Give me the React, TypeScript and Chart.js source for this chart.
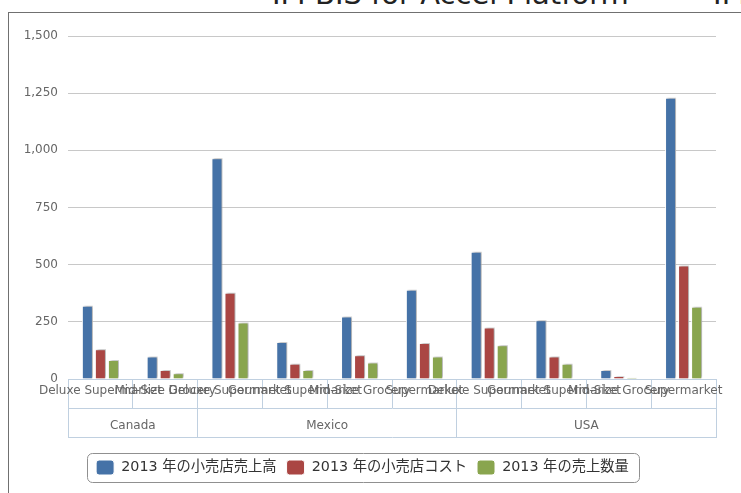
import React, { useEffect, useRef } from 'react';
import { Chart, registerables } from 'chart.js';

Chart.register(...registerables);

const TITLE = 'IM-BIS for Accel Platform   —   IM';
const COUNTRIES = ['Canada', 'Mexico', 'USA'];
const COUNTRY_SPANS = [2, 4, 4];
const STORE_TYPES = [
  'Deluxe Supermarket', 'Mid-Size Grocery',
  'Deluxe Supermarket', 'Gourmet Supermarket', 'Mid-Size Grocery', 'Supermarket',
  'Deluxe Supermarket', 'Gourmet Supermarket', 'Mid-Size Grocery', 'Supermarket',
];
const SERIES_NAMES = ['2013 年の小売店売上高', '2013 年の小売店コスト', '2013 年の売上数量'];
const SALES = [320, 98, 965, 162, 273, 390, 557, 257, 39, 1230];
const COST = [130, 39, 377, 67, 104, 157, 225, 98, 13, 496];
const UNITS = [83, 25, 247, 39, 72, 98, 148, 67, 6, 316];
const Y_MAX = 1500;
const Y_STEP = 250;

const COLORS = ['#4572A7', '#AA4643', '#89A54E'];
const FONT = "'DejaVu Sans', 'Noto Sans CJK JP', sans-serif";
const AXIS_BLUE = '#C0D0E0';

// group boundaries & centers derived from spans
const BOUNDS: number[] = [0];
COUNTRY_SPANS.forEach((s) => BOUNDS.push(BOUNDS[BOUNDS.length - 1] + s));
const CENTERS = COUNTRY_SPANS.map((s, i) => BOUNDS[i] + s / 2);

const shadowPlugin = {
  id: 'barShadow',
  beforeDatasetsDraw(chart: any) {
    const c = chart.ctx;
    c.save();
    c.shadowColor = 'rgba(0,0,0,0.32)';
    c.shadowBlur = 2.5;
    c.shadowOffsetX = 2;
    c.shadowOffsetY = -1;
  },
  afterDatasetsDraw(chart: any) {
    chart.ctx.restore();
  },
};

const legendBoxPlugin = {
  id: 'legendBox',
  afterDraw(chart: any) {
    const lg = chart.legend;
    if (!lg || !lg.legendHitBoxes || !lg.legendHitBoxes.length) return;
    const hb = lg.legendHitBoxes;
    const l = Math.min(...hb.map((h: any) => h.left)) - 9;
    const r = Math.max(...hb.map((h: any) => h.left + h.width)) + 10;
    const t = Math.min(...hb.map((h: any) => h.top)) - 7;
    const b = Math.max(...hb.map((h: any) => h.top + h.height)) + 7;
    const c = chart.ctx;
    c.save();
    c.strokeStyle = '#909090';
    c.lineWidth = 1;
    c.beginPath();
    c.roundRect(Math.round(l) + 0.5, Math.round(t) + 0.5, Math.round(r - l), Math.round(b - t), 5);
    c.stroke();
    c.restore();
  },
};

function BarChart() {
  const ref = useRef<HTMLCanvasElement | null>(null);
  useEffect(() => {
    if (!ref.current) return;
    const tickFont = { family: FONT, size: 12 };
    const chart = new Chart(ref.current, {
      type: 'bar',
      data: {
        labels: STORE_TYPES,
        datasets: [SALES, COST, UNITS].map((d, i) => ({
          label: SERIES_NAMES[i],
          data: d,
          backgroundColor: COLORS[i],
          borderColor: '#ffffff',
          borderWidth: 1,
          categoryPercentage: 0.603,
          barPercentage: 0.846,
        })),
      },
      options: {
        responsive: false,
        animation: false,
        devicePixelRatio: 1,
        layout: { padding: { top: 23, right: 25, bottom: 8, left: 0 } },
        plugins: {
          tooltip: { enabled: false },
          title: { display: false },
          legend: {
            display: true,
            position: 'bottom',
            align: 'center',
            labels: {
              boxWidth: 18,
              boxHeight: 15,
              useBorderRadius: true,
              borderRadius: 3,
              padding: 10,
              color: '#333333',
              font: { family: FONT, size: 14.3 },
            },
          },
        },
        scales: {
          x: {
            type: 'category',
            position: 'bottom',
            weight: 1,
            offset: true,
            grid: { drawOnChartArea: false, offset: true, tickLength: 29, color: AXIS_BLUE },
            border: { display: true, color: AXIS_BLUE },
            ticks: {
              autoSkip: false,
              maxRotation: 0,
              minRotation: 0,
              padding: -24,
              color: '#666666',
              font: tickFont,
            },
            afterFit: (s: any) => { s.height = 29; },
          },
          x2: {
            type: 'linear',
            position: 'bottom',
            weight: 2,
            offset: false,
            min: BOUNDS[0],
            max: BOUNDS[BOUNDS.length - 1],
            afterBuildTicks: (s: any) => {
              const vals = [...BOUNDS, ...CENTERS].sort((a, b) => a - b);
              s.ticks = vals.map((v) => ({ value: v }));
            },
            grid: {
              offset: false,
              drawOnChartArea: false,
              tickLength: 29,
              color: (ctx: any) => (ctx.tick && BOUNDS.includes(ctx.tick.value) ? AXIS_BLUE : 'rgba(0,0,0,0)'),
            },
            border: { display: true, color: AXIS_BLUE },
            ticks: {
              autoSkip: false,
              maxRotation: 0,
              minRotation: 0,
              padding: -18,
              color: '#666666',
              font: tickFont,
              callback: (v: any) => {
                const i = CENTERS.indexOf(Number(v));
                return i >= 0 ? COUNTRIES[i] : '';
              },
            },
            afterFit: (s: any) => { s.height = 29; },
          },
          x3: {
            type: 'linear',
            position: 'bottom',
            weight: 3,
            offset: false,
            min: 0,
            max: 1,
            grid: { display: false, offset: false },
            border: { display: true, color: AXIS_BLUE },
            ticks: { display: false },
            afterFit: (s: any) => { s.height = 13; },
          },
          y: {
            min: 0,
            max: Y_MAX,
            ticks: { stepSize: Y_STEP, padding: 10, color: '#666666', font: tickFont },
            grid: {
              drawTicks: false,
              color: (ctx: any) => (ctx.tick && ctx.tick.value === 0 ? AXIS_BLUE : '#C8C8C8'),
            },
            border: { display: false },
            afterFit: (s: any) => { s.width = 59; },
          },
        },
      } as any,
      plugins: [shadowPlugin, legendBoxPlugin],
    });
    return () => chart.destroy();
  }, []);
  return <canvas ref={ref} width={732} height={480} style={{ display: 'block' }} />;
}

export default function App() {
  return (
    <div
      style={{
        position: 'fixed',
        left: 0,
        top: 0,
        width: 741,
        height: 493,
        overflow: 'hidden',
        background: '#ffffff',
      }}
    >
      <div
        style={{
          position: 'absolute',
          left: 272,
          top: -23,
          fontFamily: FONT,
          fontSize: 29,
          color: '#222222',
          whiteSpace: 'pre',
        }}
      >
        {TITLE}
      </div>
      <div
        style={{
          position: 'absolute',
          left: 8,
          top: 12,
          width: 760,
          height: 500,
          borderLeft: '1px solid #707070',
          borderTop: '1px solid #707070',
        }}
      >
        <BarChart />
      </div>
    </div>
  );
}
